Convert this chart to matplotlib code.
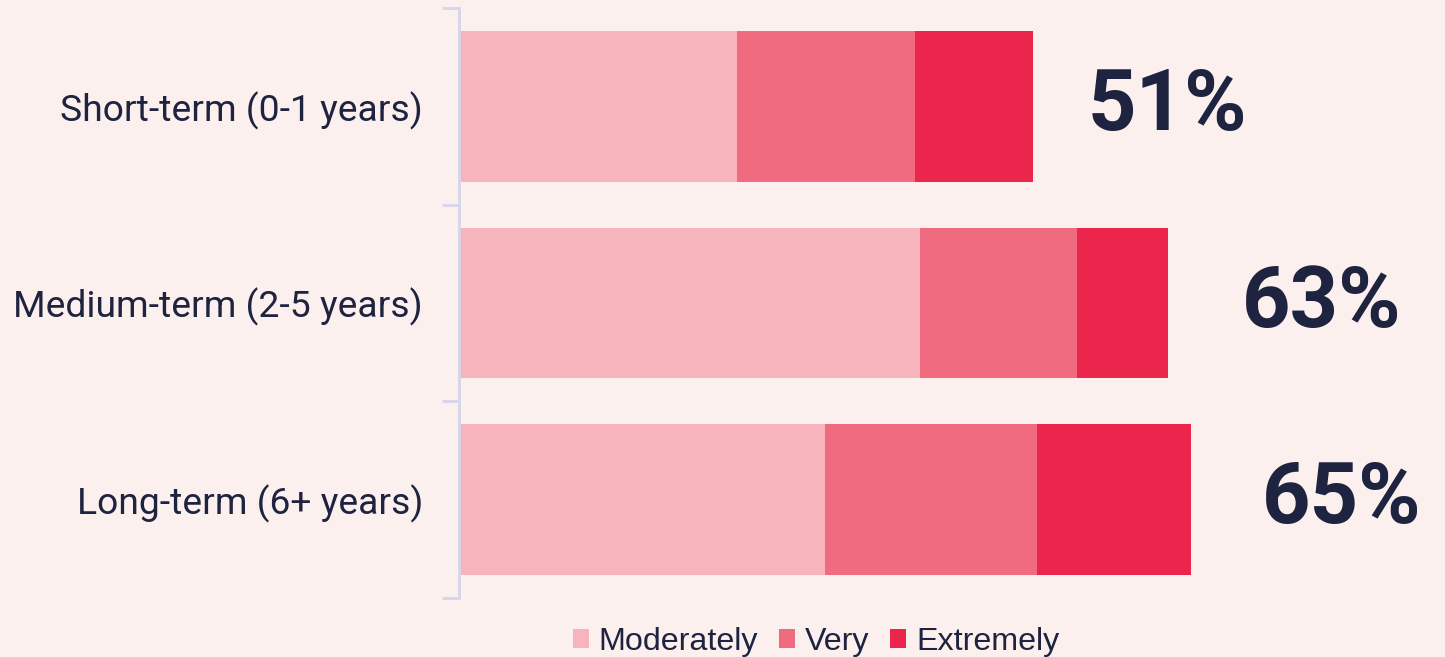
import matplotlib
matplotlib.use("Agg")
import matplotlib.pyplot as plt
from matplotlib.patches import Patch

# Data
categories = ["Short-term (0-1 years)", "Medium-term (2-5 years)", "Long-term (6+ years)"]
series_names = ["Moderately", "Very", "Extremely"]
moderately = [24.7, 40.9, 32.5]
very = [15.8, 14.0, 18.8]
extremely = [10.5, 8.1, 13.7]
totals = [51, 63, 65]
total_labels = ["51%", "63%", "65%"]

# Styling
bg = "#fcf0ee"
text_color = "#1e2340"
colors = ["#f7b4bd", "#f06a80", "#ec254d"]
axis_color = "#d5d6ea"
label_pads = [4.8, 6.5, 6.3]  # gap between bar end and total label (data units)

fig = plt.figure(figsize=(14.45, 6.57), dpi=100, facecolor=bg)
ax = fig.add_axes([459 / 1445, 1 - 598 / 657, 1 - 459 / 1445, 590 / 657])
ax.set_facecolor(bg)

y = list(range(len(categories)))
left = [0] * len(categories)
for vals, col in zip([moderately, very, extremely], colors):
    ax.barh(y, vals, left=left, height=0.765, color=col, linewidth=0)
    left = [l + v for l, v in zip(left, vals)]

for yi, tot, lab, pad in zip(y, totals, total_labels, label_pads):
    ax.text(tot + pad, yi, lab, ha="left", va="center", fontsize=61,
            fontweight="bold", family="Roboto", color=text_color)

ax.set_xlim(0, (1445 - 459) / 11.26)
ax.set_ylim(2.5, -0.5)
ax.set_yticks([-0.5, 0.5, 1.5, 2.5])
ax.set_yticklabels([])
ax.set_yticks(y, minor=True)
ax.set_yticklabels(categories, minor=True, family="Roboto", fontsize=26.8,
                   color=text_color)
ax.tick_params(axis="y", which="major", length=12, width=2, color=axis_color)
ax.tick_params(axis="y", which="minor", length=0, pad=26)
ax.set_xticks([])
for side in ["top", "right", "bottom"]:
    ax.spines[side].set_visible(False)
ax.spines["left"].set_color(axis_color)
ax.spines["left"].set_linewidth(2)

handles = [Patch(facecolor=c, edgecolor="none", label=n) for c, n in zip(colors, series_names)]
fig.legend(handles=handles, loc="center", bbox_to_anchor=(816 / 1445, 1 - 642 / 657),
           ncol=3, frameon=False, prop={"family": "Liberation Sans", "size": 23.2},
           labelcolor=text_color, handlelength=0.5, handleheight=0.5,
           handletextpad=0.3, columnspacing=0.65)

fig.savefig("out.png", dpi=100, facecolor=bg)
